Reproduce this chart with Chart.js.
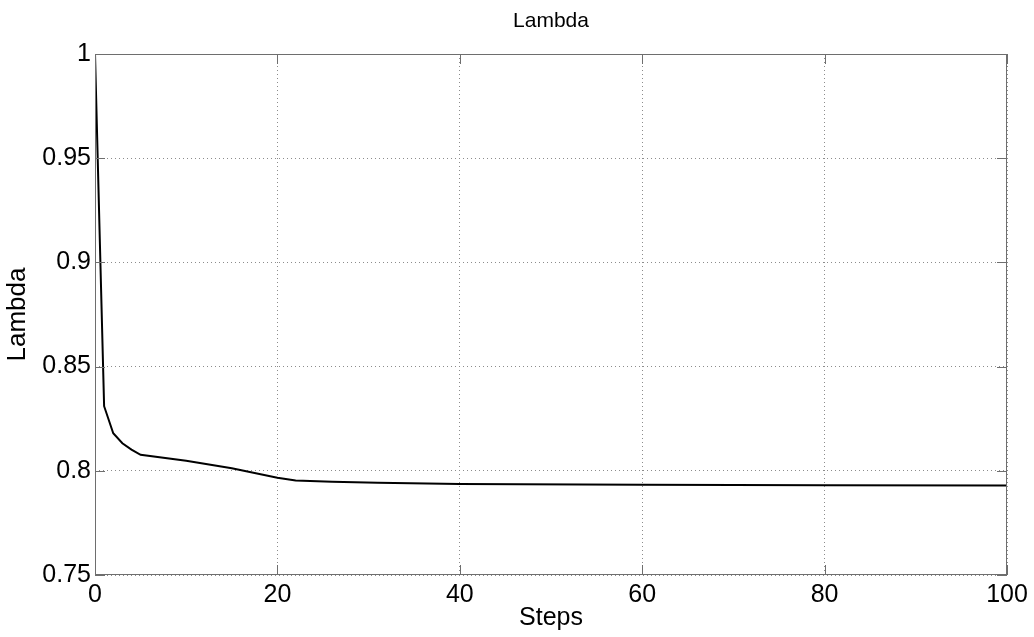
<!DOCTYPE html>
<html>
<head>
<meta charset="utf-8">
<script src="https://cdn.jsdelivr.net/npm/chart.js@4.4.1/dist/chart.umd.min.js"></script>
<style>
  html, body { margin: 0; padding: 0; background: #ffffff; }
  #wrap { width: 1034px; height: 637px; position: relative; }
</style>
</head>
<body>
<div id="wrap"><canvas id="lambdaChart"></canvas></div>
<script>
// data
const steps = [0, 1, 2, 3, 4, 5, 10, 15, 20, 22, 26, 31, 40, 60, 80, 100];
const lambdaValues = [1.0, 0.831, 0.818, 0.8132, 0.8102, 0.8077, 0.8048, 0.8012, 0.7967, 0.7954, 0.7948, 0.7943, 0.7937, 0.7933, 0.7931, 0.7929];
const xTicks = [0, 20, 40, 60, 80, 100];
const yTicks = [0.75, 0.8, 0.85, 0.9, 0.95, 1];
const chartTitle = "Lambda";

const FONT = "'Liberation Sans', Arial, sans-serif";

// box round the plot, small inside ticks and the title centred over the plot (matlab look)
const boxPlugin = {
  id: "boxPlugin",
  afterDraw(chart) {
    const { ctx, chartArea: a, scales } = chart;
    ctx.save();
    ctx.strokeStyle = "#6e6e6e";
    ctx.lineWidth = 1;
    ctx.strokeRect(a.left + 0.5, a.top + 0.5, a.right - a.left - 1, a.bottom - a.top - 1);
    ctx.beginPath();
    xTicks.forEach((v) => {
      const px = Math.round(scales.x.getPixelForValue(v)) + 0.5;
      ctx.moveTo(px, a.bottom); ctx.lineTo(px, a.bottom - 10);
      ctx.moveTo(px, a.top); ctx.lineTo(px, a.top + 10);
    });
    yTicks.forEach((v) => {
      const py = Math.round(scales.y.getPixelForValue(v)) + 0.5;
      ctx.moveTo(a.left, py); ctx.lineTo(a.left + 10, py);
      ctx.moveTo(a.right, py); ctx.lineTo(a.right - 10, py);
    });
    ctx.stroke();

    ctx.fillStyle = "#000000";
    ctx.font = "21px " + FONT;
    ctx.textAlign = "center";
    ctx.textBaseline = "middle";
    ctx.fillText(chartTitle, (a.left + a.right) / 2, 21);
    ctx.restore();
  },
};

new Chart(document.getElementById("lambdaChart"), {
  type: "line",
  data: {
    datasets: [
      {
        label: "Lambda",
        data: steps.map((s, i) => ({ x: s, y: lambdaValues[i] })),
        borderColor: "#000000",
        borderWidth: 2,
        pointRadius: 0,
        tension: 0,
        fill: false,
      },
    ],
  },
  options: {
    responsive: true,
    maintainAspectRatio: false,
    animation: false,
    layout: { padding: { top: 54, right: 27, bottom: 0, left: 0 } },
    plugins: {
      legend: { display: false },
      tooltip: { enabled: false },
      title: { display: false },
    },
    scales: {
      x: {
        type: "linear",
        min: 0,
        max: 100,
        afterBuildTicks: (scale) => { scale.ticks = xTicks.map((v) => ({ value: v })); },
        afterFit: (scale) => { scale.height = 62; },
        border: { display: false, dash: [1, 3] },
        grid: { color: "#8c8c8c", drawTicks: false, tickLength: 0 },
        ticks: { color: "#000000", padding: 5, font: { family: FONT, size: 25 } },
        title: {
          display: true,
          text: "Steps",
          color: "#000000",
          font: { family: FONT, size: 25 },
          padding: { top: 0, bottom: 4 },
        },
      },
      y: {
        type: "linear",
        min: 0.75,
        max: 1,
        afterBuildTicks: (scale) => { scale.ticks = yTicks.map((v) => ({ value: v })); },
        afterFit: (scale) => { scale.width = 95; },
        border: { display: false, dash: [1, 3] },
        grid: { color: "#8c8c8c", drawTicks: false, tickLength: 0 },
        ticks: {
          color: "#000000",
          padding: 4,
          font: { family: FONT, size: 25 },
          callback: (v) => String(Number(v.toFixed(2))),
        },
        title: {
          display: true,
          text: "Lambda",
          color: "#000000",
          font: { family: FONT, size: 26 },
          padding: { top: 2, bottom: 0 },
        },
      },
    },
  },
  plugins: [boxPlugin],
});
</script>
</body>
</html>
